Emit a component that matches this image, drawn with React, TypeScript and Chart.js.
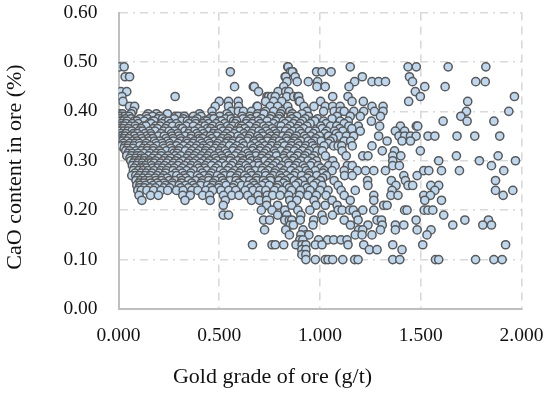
import React, { useEffect, useRef } from "react";
import { Chart, registerables } from "chart.js";

Chart.register(...registerables);

const xTitle = "Gold grade of ore (g/t)";
const yTitle = "CaO content in ore (%)";

// Gold grade readings (g/t), grouped by the CaO content (%) they sit at.
const gold049 = [0.005, 0.028, 0.84, 0.842, 1.15, 1.437, 1.478, 1.636, 1.823];
const gold048 = [0.555, 0.853, 0.865, 0.862, 0.983, 1.01, 1.055];
const gold047 = [0.033, 0.055, 0.827, 0.877, 0.83, 1.21, 1.444];
const gold046 = [0.836, 0.887, 0.942, 0.988, 1.172, 1.258, 1.291, 1.325, 1.459, 1.773, 1.82];
const gold045 = [0.576, 0.669, 0.674, 0.82, 0.985, 1.026, 1.144, 1.52, 1.621];
const gold044 = [0.012, 0.041, 0.695, 0.792, 0.83, 0.845, 1.473];
const gold043 = [0.017, 0.281, 0.737, 0.745, 0.76, 0.778, 0.835, 0.87, 0.89, 0.894, 1.063, 1.139, 1.498, 1.965];
const gold042 = [0.022, 0.5, 0.546, 0.594, 0.73, 0.77, 0.81, 0.897, 0.9, 1.003, 1.159, 1.215, 1.44, 1.733];
const gold041 = [0.055, 0.08, 0.48, 0.546, 0.596, 0.687, 0.69, 0.753, 0.79, 0.84, 0.92, 0.97, 1.026, 1.063, 1.1, 1.258, 1.313];
const gold040 = [0.071, 0.464, 0.56, 0.595, 0.62, 0.66, 0.73, 0.77, 0.81, 0.85, 0.935, 1.018, 1.07, 1.1, 1.12, 1.168, 1.217, 1.27, 1.313, 1.727, 1.937];
const gold0395 = [0.004, 0.019, 0.063, 0.147, 0.188, 0.243, 0.402, 0.538, 0.691, 0.722, 0.804, 0.862, 0.911];
const gold039 = [0.006, 0.014, 0.031, 0.052, 0.138, 0.169, 0.204, 0.283, 0.297, 0.327, 0.372, 0.41, 0.467, 0.503, 0.549, 0.613, 0.652, 0.687, 0.758, 0.798, 0.856, 0.885, 0.943, 1.085, 1.15, 1.2, 1.3, 1.699];
const gold0385 = [0.008, 0.034, 0.062, 0.107, 0.143, 0.196, 0.219, 0.277, 0.322, 0.391, 0.452, 0.473, 0.531, 0.559, 0.618, 0.655, 0.709, 0.752, 0.796, 0.861, 0.927, 0.988, 1.06];
const gold038 = [0.003, 0.011, 0.024, 0.043, 0.078, 0.091, 0.128, 0.167, 0.176, 0.229, 0.248, 0.313, 0.342, 0.366, 0.381, 0.424, 0.437, 0.498, 0.512, 0.571, 0.586, 0.637, 0.672, 0.694, 0.738, 0.781, 0.818, 0.843, 0.877, 0.913, 0.962, 0.974, 1.018, 1.1, 1.14, 1.255, 1.611, 1.73, 1.863];
const gold0375 = [0.013, 0.038, 0.069, 0.098, 0.151, 0.162, 0.214, 0.258, 0.287, 0.349, 0.383, 0.419, 0.447, 0.484, 0.527, 0.579, 0.634, 0.663, 0.703, 0.769, 0.826, 0.868, 0.902, 0.951, 1.03, 1.12];
const gold037 = [0.004, 0.017, 0.029, 0.058, 0.083, 0.122, 0.136, 0.184, 0.207, 0.241, 0.269, 0.301, 0.336, 0.372, 0.408, 0.429, 0.468, 0.503, 0.541, 0.566, 0.598, 0.611, 0.648, 0.687, 0.721, 0.746, 0.793, 0.807, 0.852, 0.894, 0.935, 1.004, 1.052, 1.083, 1.143, 1.19, 1.296, 1.399, 1.478, 1.485];
const gold0365 = [0.007, 0.022, 0.049, 0.087, 0.112, 0.173, 0.193, 0.232, 0.306, 0.318, 0.396, 0.441, 0.459, 0.507, 0.552, 0.604, 0.627, 0.679, 0.731, 0.764, 0.838, 0.885, 0.918, 1.011, 1.098, 1.158];
const gold036 = [0.002, 0.009, 0.027, 0.046, 0.067, 0.101, 0.119, 0.154, 0.181, 0.223, 0.251, 0.279, 0.329, 0.353, 0.378, 0.413, 0.449, 0.476, 0.518, 0.547, 0.583, 0.602, 0.642, 0.668, 0.697, 0.734, 0.772, 0.803, 0.829, 0.866, 0.899, 0.947, 0.977, 1.033, 1.072, 1.113, 1.2, 1.374, 1.42];
const gold0355 = [0.012, 0.036, 0.074, 0.094, 0.131, 0.159, 0.211, 0.263, 0.294, 0.347, 0.388, 0.422, 0.471, 0.494, 0.536, 0.574, 0.622, 0.659, 0.711, 0.749, 0.783, 0.849, 0.908, 0.967, 1.023, 1.081];
const gold035 = [0.005, 0.018, 0.033, 0.061, 0.079, 0.109, 0.141, 0.163, 0.198, 0.227, 0.266, 0.299, 0.331, 0.362, 0.397, 0.434, 0.457, 0.488, 0.523, 0.556, 0.593, 0.629, 0.651, 0.692, 0.718, 0.757, 0.788, 0.816, 0.841, 0.883, 0.923, 0.953, 0.997, 1.042, 1.094, 1.131, 1.167, 1.291, 1.392, 1.42, 1.449, 1.477, 1.536, 1.57, 1.68, 1.768, 1.892];
const gold0345 = [0.014, 0.027, 0.051, 0.086, 0.116, 0.148, 0.171, 0.236, 0.271, 0.308, 0.358, 0.401, 0.418, 0.463, 0.514, 0.543, 0.607, 0.644, 0.699, 0.742, 0.776, 0.833, 0.874, 0.931, 0.979, 1.065];
const gold034 = [0.009, 0.021, 0.042, 0.071, 0.093, 0.124, 0.152, 0.179, 0.206, 0.244, 0.272, 0.311, 0.339, 0.377, 0.404, 0.443, 0.478, 0.502, 0.544, 0.568, 0.601, 0.639, 0.673, 0.702, 0.739, 0.771, 0.799, 0.836, 0.872, 0.904, 0.942, 0.971, 1.006, 1.05, 1.12, 1.152, 1.333, 1.407, 1.449];
const gold0335 = [0.024, 0.056, 0.082, 0.103, 0.137, 0.186, 0.217, 0.253, 0.296, 0.341, 0.369, 0.412, 0.451, 0.492, 0.533, 0.562, 0.616, 0.676, 0.713, 0.762, 0.812, 0.859, 0.891, 0.958, 1.041];
const gold033 = [0.016, 0.032, 0.048, 0.076, 0.106, 0.133, 0.158, 0.191, 0.222, 0.256, 0.288, 0.323, 0.357, 0.389, 0.421, 0.456, 0.486, 0.519, 0.551, 0.587, 0.623, 0.658, 0.696, 0.727, 0.759, 0.791, 0.824, 0.858, 0.897, 0.929, 0.964, 1.02, 1.068, 1.09, 1.108, 1.16, 1.258];
const gold0325 = [0.028, 0.044, 0.072, 0.121, 0.144, 0.174, 0.226, 0.261, 0.303, 0.344, 0.379, 0.414, 0.438, 0.479, 0.511, 0.572, 0.608, 0.669, 0.706, 0.744, 0.786, 0.847, 0.882, 0.922, 0.974];
const gold032 = [0.036, 0.054, 0.088, 0.114, 0.142, 0.172, 0.203, 0.237, 0.268, 0.298, 0.332, 0.364, 0.399, 0.432, 0.466, 0.501, 0.529, 0.567, 0.599, 0.631, 0.664, 0.701, 0.733, 0.773, 0.806, 0.842, 0.873, 0.912, 0.948, 0.986, 1.012, 1.11, 1.309, 1.37, 1.498];
const gold0315 = [0.047, 0.068, 0.096, 0.126, 0.157, 0.189, 0.213, 0.274, 0.291, 0.352, 0.387, 0.426, 0.453, 0.497, 0.537, 0.589, 0.641, 0.683, 0.724, 0.778, 0.831, 0.893, 0.938];
const gold031 = [0.041, 0.064, 0.092, 0.111, 0.149, 0.178, 0.212, 0.246, 0.282, 0.309, 0.346, 0.376, 0.411, 0.444, 0.477, 0.509, 0.546, 0.578, 0.613, 0.649, 0.682, 0.714, 0.751, 0.784, 0.821, 0.854, 0.889, 0.926, 0.971, 1.027, 1.13, 1.212, 1.238, 1.361, 1.401, 1.677, 1.884];
const gold0305 = [0.057, 0.084, 0.113, 0.129, 0.168, 0.197, 0.231, 0.259, 0.293, 0.337, 0.368, 0.403, 0.436, 0.482, 0.516, 0.558, 0.606, 0.653, 0.708, 0.741, 0.819, 0.871, 0.919, 0.959];
const gold030 = [0.061, 0.081, 0.102, 0.127, 0.153, 0.183, 0.221, 0.249, 0.284, 0.319, 0.351, 0.384, 0.423, 0.451, 0.489, 0.522, 0.554, 0.591, 0.619, 0.661, 0.689, 0.726, 0.761, 0.794, 0.832, 0.864, 0.906, 0.941, 0.982, 1.063, 1.361, 1.589, 1.791, 1.97];
const gold0295 = [0.073, 0.097, 0.118, 0.146, 0.161, 0.177, 0.208, 0.239, 0.273, 0.302, 0.343, 0.371, 0.406, 0.442, 0.474, 0.513, 0.569, 0.612, 0.646, 0.691, 0.747, 0.782, 0.843, 0.889, 0.961];
const gold029 = [0.069, 0.089, 0.117, 0.134, 0.164, 0.199, 0.228, 0.264, 0.295, 0.328, 0.361, 0.393, 0.431, 0.462, 0.496, 0.532, 0.561, 0.603, 0.632, 0.671, 0.698, 0.737, 0.768, 0.811, 0.846, 0.881, 0.916, 0.952, 0.991, 1.043, 1.075, 1.136, 1.16, 1.361, 1.394, 1.851];
const gold0285 = [0.078, 0.108, 0.123, 0.139, 0.169, 0.194, 0.218, 0.247, 0.276, 0.316, 0.354, 0.398, 0.427, 0.483, 0.548, 0.597, 0.643, 0.716, 0.756, 0.801, 0.869, 0.924, 1.003];
const gold028 = [0.074, 0.099, 0.122, 0.147, 0.176, 0.209, 0.238, 0.271, 0.304, 0.338, 0.374, 0.409, 0.439, 0.472, 0.506, 0.539, 0.576, 0.609, 0.647, 0.678, 0.712, 0.743, 0.779, 0.822, 0.856, 0.896, 0.932, 0.976, 1.02, 1.06, 1.12, 1.185, 1.226, 1.267, 1.325, 1.515, 1.54, 1.603, 1.692, 1.912];
const gold0275 = [0.082, 0.112, 0.137, 0.166, 0.201, 0.234, 0.283, 0.317, 0.359, 0.416, 0.461, 0.521, 0.563, 0.601, 0.656, 0.728, 0.774, 0.813, 0.878, 0.944, 1.015];
const gold027 = [0.066, 0.086, 0.104, 0.132, 0.159, 0.192, 0.224, 0.262, 0.289, 0.326, 0.356, 0.392, 0.425, 0.454, 0.491, 0.526, 0.557, 0.592, 0.626, 0.662, 0.693, 0.731, 0.767, 0.802, 0.834, 0.871, 0.909, 0.946, 0.984, 1.031, 1.122, 1.16, 1.416, 1.482];
const gold0265 = [0.094, 0.121, 0.148, 0.182, 0.216, 0.242, 0.307, 0.334, 0.402, 0.446, 0.508, 0.582, 0.638, 0.684, 0.753, 0.809, 0.853, 0.937, 1.013];
const gold026 = [0.087, 0.109, 0.131, 0.156, 0.186, 0.214, 0.252, 0.281, 0.314, 0.348, 0.382, 0.417, 0.448, 0.481, 0.517, 0.553, 0.584, 0.621, 0.652, 0.686, 0.719, 0.754, 0.797, 0.828, 0.872, 0.914, 0.959, 1.002, 1.07, 1.236, 1.354, 1.424, 1.871];
const gold0255 = [0.101, 0.127, 0.161, 0.193, 0.226, 0.267, 0.312, 0.363, 0.411, 0.469, 0.524, 0.596, 0.668, 0.729, 0.819, 0.892, 0.981];
const gold025 = [0.091, 0.106, 0.134, 0.171, 0.202, 0.233, 0.268, 0.301, 0.333, 0.371, 0.407, 0.442, 0.468, 0.499, 0.534, 0.573, 0.611, 0.641, 0.674, 0.712, 0.748, 0.792, 0.837, 0.878, 0.926, 0.967, 1.01, 1.09, 1.238, 1.377, 1.437, 1.46, 1.55, 1.589];
const gold0245 = [0.103, 0.128, 0.157, 0.183, 0.225, 0.254, 0.309, 0.347, 0.381, 0.458, 0.497, 0.568, 0.656, 0.689, 0.786, 0.848, 0.936];
const gold024 = [0.096, 0.113, 0.141, 0.174, 0.211, 0.244, 0.288, 0.321, 0.364, 0.394, 0.433, 0.467, 0.509, 0.547, 0.582, 0.629, 0.668, 0.702, 0.731, 0.774, 0.812, 0.859, 0.903, 0.951, 1.0, 1.04, 1.105, 1.175, 1.358, 1.57, 1.871, 1.957];
const gold023 = [0.102, 0.159, 0.198, 0.319, 0.356, 0.418, 0.452, 0.521, 0.562, 0.598, 0.641, 0.692, 0.738, 0.765, 0.802, 0.845, 0.898, 0.94, 0.982, 1.03, 1.12, 1.267, 1.352, 1.387, 1.515, 1.548, 1.909];
const gold022 = [0.116, 0.33, 0.455, 0.53, 0.66, 0.7, 0.735, 0.85, 0.885, 0.97, 1.06, 1.15, 1.267, 1.52, 1.603];
const gold021 = [0.52, 0.735, 0.79, 0.86, 0.98, 1.026, 1.085, 1.316, 1.333];
const gold020 = [0.709, 0.762, 0.825, 0.89, 0.95, 1.09, 1.11, 1.147, 1.165, 1.212, 1.267, 1.42, 1.432, 1.517, 1.536, 1.56];
const gold019 = [0.52, 0.546, 0.79, 0.835, 0.905, 1.01, 1.062, 1.18, 1.614];
const gold018 = [0.72, 0.75, 0.825, 0.848, 0.86, 0.902, 0.969, 1.018, 1.12, 1.189, 1.283, 1.305, 1.477, 1.719, 1.836];
const gold017 = [0.852, 0.868, 0.965, 1.151, 1.238, 1.309, 1.374, 1.416, 1.659, 1.808, 1.851];
const gold016 = [0.725, 0.83, 0.916, 1.192, 1.212, 1.3, 1.374, 1.482, 1.551];
const gold015 = [0.848, 0.93, 1.175, 1.209, 1.258, 1.531, 0.905, 0.945];
const gold014 = [0.993, 1.038, 1.068, 1.104, 1.134, 0.9, 0.915];
const gold013 = [0.665, 0.762, 0.82, 0.778, 0.881, 0.911, 0.93, 0.977, 1.01, 1.139, 1.217, 1.361, 1.51, 1.921];
const gold012 = [0.91, 0.93, 1.245, 1.283, 1.407];
const gold011 = [0.91, 0.93];
const gold010 = [0.93, 0.977, 1.026, 1.04, 1.063, 1.113, 1.172, 1.189, 1.361, 1.396, 1.573, 1.589, 1.772, 1.863, 1.904];

const caoLevels = [0.49, 0.48, 0.47, 0.46, 0.45, 0.44, 0.43, 0.42, 0.41, 0.4, 0.395, 0.39, 0.385, 0.38, 0.375, 0.37, 0.365, 0.36, 0.355, 0.35, 0.345, 0.34, 0.335, 0.33, 0.325, 0.32, 0.315, 0.31, 0.305, 0.3, 0.295, 0.29, 0.285, 0.28, 0.275, 0.27, 0.265, 0.26, 0.255, 0.25, 0.245, 0.24, 0.23, 0.22, 0.21, 0.2, 0.19, 0.18, 0.17, 0.16, 0.15, 0.14, 0.13, 0.12, 0.11, 0.1];
const goldAtLevels = [gold049, gold048, gold047, gold046, gold045, gold044, gold043, gold042, gold041, gold040, gold0395, gold039, gold0385, gold038, gold0375, gold037, gold0365, gold036, gold0355, gold035, gold0345, gold034, gold0335, gold033, gold0325, gold032, gold0315, gold031, gold0305, gold030, gold0295, gold029, gold0285, gold028, gold0275, gold027, gold0265, gold026, gold0255, gold025, gold0245, gold024, gold023, gold022, gold021, gold020, gold019, gold018, gold017, gold016, gold015, gold014, gold013, gold012, gold011, gold010];

const points = goldAtLevels.flatMap((golds, i) => golds.map((x) => ({ x, y: caoLevels[i] })));

const FONT = "'Liberation Serif', serif";
const TEXT = "#111111";

// The axis titles of the reference sit off the plot's centre, which scale titles cannot do.
const axisTitles = {
  id: "axisTitles",
  afterDraw(chart: any) {
    const { ctx } = chart;
    ctx.save();
    ctx.fillStyle = TEXT;
    ctx.font = `22px ${FONT}`;
    ctx.textAlign = "center";
    ctx.textBaseline = "middle";
    ctx.fillText(xTitle, 272.5, 377);
    ctx.translate(15, 167);
    ctx.rotate(-Math.PI / 2);
    ctx.fillText(yTitle, 0, 0);
    ctx.restore();
  },
};

export default function App() {
  const ref = useRef<HTMLCanvasElement>(null);
  useEffect(() => {
    document.body.style.margin = "0";
    const chart = new Chart(ref.current!, {
      type: "scatter",
      data: {
        datasets: [
          {
            data: points,
            pointRadius: 4.1,
            pointBorderWidth: 1.5,
            pointBackgroundColor: "#BDD7EE",
            pointBorderColor: "#595959",
          },
        ],
      },
      options: {
        animation: false,
        responsive: false,
        layout: { padding: { top: 12.5, right: 28.5, left: 0, bottom: 0 } },
        plugins: { legend: { display: false }, tooltip: { enabled: false } },
        scales: {
          x: {
            type: "linear",
            min: 0,
            max: 2,
            afterFit: (s: any) => { s.height = 85; s.paddingLeft = 0; s.paddingRight = 0; },
            ticks: {
              stepSize: 0.5,
              padding: 15,
              color: TEXT,
              maxRotation: 0,
              font: { family: FONT, size: 19.5 },
              callback: (v: any) => Number(v).toFixed(3),
            },
            grid: { color: "#D9D9D9", lineWidth: 1.6, drawTicks: false },
            border: { color: "#BFBFBF", width: 2, dash: [8, 6] },
          },
          y: {
            type: "linear",
            min: 0,
            max: 0.6,
            afterFit: (s: any) => { s.width = 118.5; s.paddingTop = 0; s.paddingBottom = 0; },
            ticks: {
              stepSize: 0.1,
              padding: 21,
              color: TEXT,
              font: { family: FONT, size: 19.5 },
              callback: (v: any) => Number(v).toFixed(2),
            },
            grid: { color: "#D9D9D9", lineWidth: 1.6, drawTicks: false },
            border: { color: "#BFBFBF", width: 2, dash: [8, 5, 2, 5] },
          },
        },
      },
      plugins: [axisTitles],
    } as any);
    return () => chart.destroy();
  }, []);
  return <canvas ref={ref} width={550} height={394} style={{ display: "block", width: 550, height: 394 }} />;
}
